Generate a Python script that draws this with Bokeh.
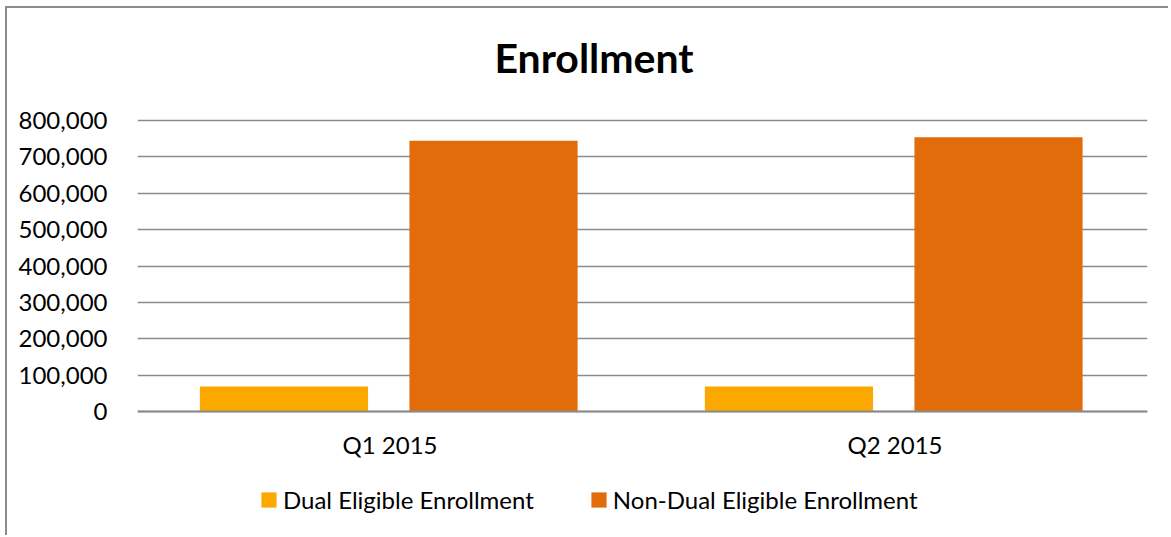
from bokeh.plotting import figure
from bokeh.models import (ColumnDataSource, FactorRange, Range1d, NumeralTickFormatter,
                          FixedTicker, Legend, LegendItem, Label)
from bokeh.transform import dodge
from bokeh.embed import file_html
from bokeh.resources import INLINE

# ---- data ----
quarters = ["Q1 2015", "Q2 2015"]
dual = [69000, 69000]
non_dual = [744000, 754000]
series_names = ["Dual Eligible Enrollment", "Non-Dual Eligible Enrollment"]
colors = ["#FBA800", "#E36C0A"]
y_ticks = [0, 100000, 200000, 300000, 400000, 500000, 600000, 700000, 800000]
title_text = "Enrollment"

# ---- layout constants (pixels) ----
FONT = "Lato"
FRAME_W = 1010
AXIS_PX = 291            # pixels between 0 and 800,000
TOP_PAD = 112            # frame room above the 800,000 line
BOTTOM_PAD = 124         # frame room below the 0 line (x labels, legend)
Y_MAX = y_ticks[-1]
per_px = Y_MAX / AXIS_PX

src = ColumnDataSource(data=dict(q=quarters, dual=dual, non_dual=non_dual))

p = figure(x_range=FactorRange(*quarters, range_padding=0),
           y_range=Range1d(-BOTTOM_PAD * per_px, Y_MAX + TOP_PAD * per_px),
           output_backend="svg", toolbar_location=None,
           frame_width=FRAME_W, frame_height=TOP_PAD + AXIS_PX + BOTTOM_PAD,
           min_border_left=130, min_border_right=21,
           min_border_top=0, min_border_bottom=0)
p.background_fill_color = "white"
p.border_fill_color = "white"
p.outline_line_color = None

r1 = p.vbar(x=dodge("q", -0.21, range=p.x_range), top="dual", width=0.333,
            source=src, fill_color=colors[0], line_color=None)
r2 = p.vbar(x=dodge("q", 0.205, range=p.x_range), top="non_dual", width=0.333,
            source=src, fill_color=colors[1], line_color=None)

# y axis
p.yaxis.ticker = FixedTicker(ticks=y_ticks)
p.yaxis.formatter = NumeralTickFormatter(format="0,0")
p.yaxis.axis_line_color = None
p.yaxis.major_tick_line_color = None
p.yaxis.minor_tick_line_color = None
p.yaxis.major_label_standoff = 24
p.yaxis.major_label_text_font = FONT
p.yaxis.major_label_text_font_size = "24px"
p.yaxis.major_label_text_color = "black"

# x axis, pinned at y = 0
p.xaxis.fixed_location = 0
p.xaxis.axis_line_color = "#8C8C8C"
p.xaxis.axis_line_width = 2
p.xaxis.major_tick_line_color = None
p.xaxis.minor_tick_line_color = None
p.xaxis.major_label_standoff = 12
p.xaxis.major_label_text_font = FONT
p.xaxis.major_label_text_font_size = "24px"
p.xaxis.major_label_text_color = "black"

p.xgrid.grid_line_color = None
p.ygrid.grid_line_color = "#8C8C8C"
p.ygrid.grid_line_width = 1.5

# title (centred on the whole chart box, not on the plot area)
title = Label(x=456.5 / 505, y=Y_MAX + 63 * per_px, text=title_text,
              text_font=FONT, text_font_style="bold", text_font_size="41px",
              text_color="black", text_align="center", text_baseline="middle")
p.add_layout(title)

legend = Legend(items=[LegendItem(label=series_names[0], renderers=[r1]),
                       LegendItem(label=series_names[1], renderers=[r2])],
                orientation="horizontal", location=(122, 21),
                label_text_font=FONT, label_text_font_size="24px",
                label_text_color="black",
                glyph_width=19, glyph_height=19, label_standoff=5,
                spacing=55, padding=4, margin=0,
                border_line_color=None, background_fill_alpha=0)
p.add_layout(legend, "center")

p.styles = {"border-left": "2px solid #8C8C8C", "border-top": "2px solid #8C8C8C",
            "margin-top": "6px", "margin-left": "5px"}

open("out.html", "w").write(file_html(p, INLINE))
